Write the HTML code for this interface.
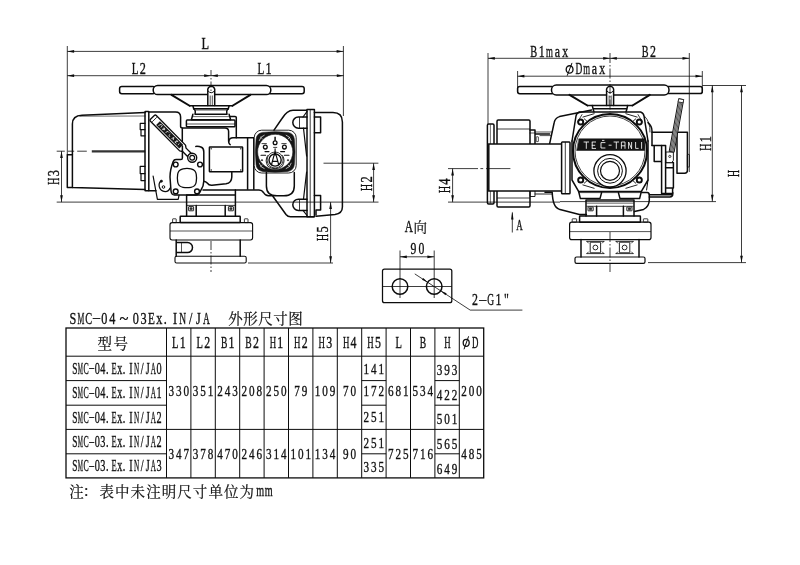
<!DOCTYPE html>
<html lang="zh"><head><meta charset="utf-8"><title>SMC-04~03Ex.IN/JA</title>
<style>
html,body{margin:0;padding:0;background:#fff;}
body{width:800px;height:565px;overflow:hidden;font-family:"Liberation Serif",serif;}
svg{display:block;will-change:transform;opacity:0.999;}
svg text{font-family:"Liberation Serif",serif;fill:#111;stroke:#111;stroke-width:0.36px;}
</style></head><body>
<svg width="800" height="565" viewBox="0 0 800 565">
<rect width="800" height="565" fill="#fff"/>
<rect x="119.60" y="86.40" width="35.40" height="7.40" rx="2.20" fill="none" stroke="#0c0c0c" stroke-width="1.50"/>
<rect x="268.00" y="86.40" width="36.20" height="7.40" rx="2.20" fill="none" stroke="#0c0c0c" stroke-width="1.50"/>
<rect x="153.2" y="85.4" width="117.6" height="9.2" rx="4.4" fill="#fff" stroke="#0c0c0c" stroke-width="1.50"/>
<path d="M207.8 105.6V90.7A3.55 3.55 0 1 1 214.7 90.7V105.6" fill="#fff" stroke="#0c0c0c" stroke-width="1.50" stroke-linejoin="round" stroke-linecap="round" />
<path d="M208.1 91Q211.2 94.8 214.4 91" fill="none" stroke="#0c0c0c" stroke-width="1.00" stroke-linejoin="round" stroke-linecap="round" />
<line x1="210.20" y1="95.50" x2="210.20" y2="105.60" stroke="#0c0c0c" stroke-width="0.70"/>
<line x1="212.30" y1="95.50" x2="212.30" y2="105.60" stroke="#0c0c0c" stroke-width="0.70"/>
<path d="M171.5 94.8L189.6 105.75M250.4 94.8L232.5 105.75" fill="none" stroke="#0c0c0c" stroke-width="2.00" stroke-linejoin="round" stroke-linecap="round" />
<path d="M189.6 105.75H232.5" fill="none" stroke="#0c0c0c" stroke-width="1.50" stroke-linejoin="round" stroke-linecap="round" />
<path d="M192.9 105.75L193.7 108.8H228.3L229.1 105.75" fill="none" stroke="#0c0c0c" stroke-width="1.50" stroke-linejoin="round" stroke-linecap="round" />
<path d="M193.7 108.8Q196 110 195 114.2H227Q226 110 228.3 108.8" fill="none" stroke="#0c0c0c" stroke-width="1.50" stroke-linejoin="round" stroke-linecap="round" />
<line x1="195.40" y1="110.00" x2="226.60" y2="110.00" stroke="#0c0c0c" stroke-width="0.70"/>
<path d="M192.9 114.2L191.4 119.7H230.6L229.1 114.2" fill="none" stroke="#0c0c0c" stroke-width="1.50" stroke-linejoin="round" stroke-linecap="round" />
<line x1="192.40" y1="116.60" x2="229.60" y2="116.60" stroke="#0c0c0c" stroke-width="0.60"/>
<rect x="186.40" y="120.10" width="48.60" height="6.60" rx="0.80" fill="none" stroke="#0c0c0c" stroke-width="1.50"/>
<line x1="186.40" y1="124.00" x2="235.00" y2="124.00" stroke="#0c0c0c" stroke-width="0.70"/>
<path d="M145.2 112.6L82 115.3Q72.4 115.6 72.4 124V187.4L145.0 189.4" fill="none" stroke="#0c0c0c" stroke-width="1.50" stroke-linejoin="round" stroke-linecap="round" />
<path d="M80 116.2L145.2 116.0" fill="none" stroke="#0c0c0c" stroke-width="0.60" stroke-linejoin="round" stroke-linecap="round" />
<path d="M72.4 154.8H67.3V187.5H72.4" fill="none" stroke="#0c0c0c" stroke-width="1.50" stroke-linejoin="round" stroke-linecap="round" />
<line x1="91.80" y1="151.30" x2="145.20" y2="151.30" stroke="#333" stroke-width="2.30"/>
<rect x="145.00" y="111.60" width="3.80" height="79.20" rx="0.50" fill="none" stroke="#0c0c0c" stroke-width="1.50"/>
<path d="M145 123.4H140.2V129.6H141V135.8H145M140.2 129.6H145" fill="none" stroke="#0c0c0c" stroke-width="1.20" stroke-linejoin="round" stroke-linecap="round" />
<path d="M145 166.4H140.2V173.6H141V180.6H145M140.2 173.6H145" fill="none" stroke="#0c0c0c" stroke-width="1.20" stroke-linejoin="round" stroke-linecap="round" />
<path d="M148.8 112H175.5Q180.6 112 180.6 117V126.5Q180.6 128 183 128H225Q228.6 128 228.6 131.5V140.5Q228.6 143.8 230.2 144.6" fill="none" stroke="#0c0c0c" stroke-width="1.50" stroke-linejoin="round" stroke-linecap="round" />
<path d="M228.8 141Q229.4 137.8 233 137.8H254.2" fill="none" stroke="#0c0c0c" stroke-width="1.50" stroke-linejoin="round" stroke-linecap="round" />
<path d="M230.4 116.4H235Q236.3 116.4 236.3 117.6V137.8" fill="none" stroke="#0c0c0c" stroke-width="1.50" stroke-linejoin="round" stroke-linecap="round" />
<path d="M182.3 128.5V146" fill="none" stroke="#0c0c0c" stroke-width="1.50" stroke-linejoin="round" stroke-linecap="round" />
<path d="M148.8 190.8H156" fill="none" stroke="#0c0c0c" stroke-width="1.50" stroke-linejoin="round" stroke-linecap="round" />
<g transform="translate(152.4 117.4) rotate(45.4)">
<path d="M1.4 -4.1H43L45.5 -2.4H52.5V2.4H45.5L43 4.1H1.4Q0 4.1 0 2.7V-2.7Q0 -4.1 1.4 -4.1Z" fill="#fff" stroke="#0c0c0c" stroke-width="1.35" stroke-linejoin="round"/>
<path d="M3 -3.2V3.2" stroke="#0c0c0c" stroke-width="0.8"/>
<rect x="8" y="-2.7" width="33" height="5.4" fill="#181818"/>
<path d="M10 1.4l1.2 -2.8l1.6 0.2l0.4 2.2M15.5 -1.4v2.6l2 -1.2l-1.4 -1.2M20 1.2l0.8 -2.4h1.6M24.5 -1v2l1.6 0.2M28.5 1.2l1 -2.4l1.2 2.4M33 -1.2h2l-1.8 2.4h2.2M37.5 -1v2.2" stroke="#fff" stroke-width="0.75" fill="none"/>
</g>
<circle cx="192.20" cy="157.70" r="4.50" fill="#fff" stroke="#0c0c0c" stroke-width="1.40"/>
<circle cx="192.20" cy="157.70" r="2.40" fill="none" stroke="#0c0c0c" stroke-width="1.20"/>
<path d="M173.2 161.6Q174 159.6 176 159.6H180.8Q182.4 159.6 182.4 158V146M195.8 146.4Q199 146.2 201.5 147.2Q203.8 148.2 203.8 152V181Q203.7 186 201 190Q199 195 195.5 195H174.5Q171.5 195 171 191L170 177Q170 170 173.2 161.6" fill="none" stroke="#0c0c0c" stroke-width="1.50" stroke-linejoin="round" stroke-linecap="round" />
<path d="M183 168.8Q187 168 191 168.8Q195.6 169.8 196.2 174Q196.9 178 196.2 182Q195.6 186.4 191 187.3Q187 188.1 183 187.3Q178.3 186.4 177.7 182Q177 178 177.7 174Q178.3 169.8 183 168.8Z" fill="none" stroke="#0c0c0c" stroke-width="1.30" stroke-linejoin="round" stroke-linecap="round" />
<circle cx="175.70" cy="164.50" r="2.40" fill="#fff" stroke="#0c0c0c" stroke-width="1.40"/>
<circle cx="200.00" cy="164.50" r="2.40" fill="#fff" stroke="#0c0c0c" stroke-width="1.40"/>
<circle cx="175.70" cy="191.40" r="2.40" fill="#fff" stroke="#0c0c0c" stroke-width="1.40"/>
<circle cx="197.00" cy="191.40" r="2.40" fill="#fff" stroke="#0c0c0c" stroke-width="1.40"/>
<path d="M153.1 176L157.4 199.3H178.2L179 195.4" fill="none" stroke="#0c0c0c" stroke-width="1.20" stroke-linejoin="round" stroke-linecap="round" />
<circle cx="163.50" cy="187.00" r="1.30" fill="none" stroke="#0c0c0c" stroke-width="1.00"/>
<path d="M160.8 181.2Q158.5 183 159.2 186.5Q160.4 191.4 165.2 191.6Q169 191.4 170 188" fill="none" stroke="#0c0c0c" stroke-width="1.15" stroke-linejoin="round" stroke-linecap="round" />
<circle cx="161.40" cy="181.20" r="1.15" fill="#111" stroke="#0c0c0c" stroke-width="0.60"/>
<rect x="209.40" y="147.00" width="33.20" height="24.80" rx="0.60" fill="none" stroke="#0c0c0c" stroke-width="1.50"/>
<circle cx="211.20" cy="148.80" r="0.45" fill="#111" stroke="#0c0c0c" stroke-width="0.50"/>
<circle cx="240.80" cy="148.80" r="0.45" fill="#111" stroke="#0c0c0c" stroke-width="0.50"/>
<circle cx="211.20" cy="170.00" r="0.45" fill="#111" stroke="#0c0c0c" stroke-width="0.50"/>
<circle cx="240.80" cy="170.00" r="0.45" fill="#111" stroke="#0c0c0c" stroke-width="0.50"/>
<path d="M203.7 181.3Q206 181.6 207.2 183Q209 185.6 212 185.3L226 183.8Q231.6 183 231.8 177V171.8" fill="none" stroke="#0c0c0c" stroke-width="1.50" stroke-linejoin="round" stroke-linecap="round" />
<line x1="247.60" y1="137.80" x2="247.60" y2="189.80" stroke="#0c0c0c" stroke-width="1.50"/>
<line x1="253.80" y1="137.80" x2="253.80" y2="189.80" stroke="#0c0c0c" stroke-width="1.50"/>
<path d="M203 190H259Q262 190 263.5 192.5Q265.3 195.8 268.5 195.8H272.5L286 214.5Q287.8 216.8 290.5 216.8H313.8" fill="none" stroke="#0c0c0c" stroke-width="1.50" stroke-linejoin="round" stroke-linecap="round" />
<rect x="254.20" y="130.20" width="42.00" height="42.80" rx="7.50" fill="#fff" stroke="#0c0c0c" stroke-width="0.90"/>
<path d="M262.6 132.4Q275.2 130.9 287.8 132.4Q293.6 133.3 294.3 139Q295.8 151.9 294.3 164.8Q293.6 170.5 287.8 171.4Q275.2 172.9 262.6 171.4Q256.8 170.5 256.1 164.8Q254.6 151.9 256.1 139Q256.8 133.3 262.6 132.4Z M257.6 151.9a17.6 17.6 0 1 0 35.2 0a17.6 17.6 0 1 0 -35.2 0Z" fill="#161616" fill-rule="evenodd" stroke="#161616" stroke-width="0.6" stroke-linejoin="round"/>
<path d="M259.2 140.6Q260.2 136.4 264.2 135.2M260.6 137.2L262.2 138.6M291.2 140.6Q290.2 136.4 286.2 135.2M289.8 137.2L288.2 138.6M259.2 163.2Q260.2 167.4 264.2 168.6M260.6 166.6L262.2 165.2M291.2 163.2Q290.2 167.4 286.2 168.6M289.8 166.6L288.2 165.2" fill="none" stroke="#e8e8e8" stroke-width="0.75" stroke-linejoin="round" stroke-linecap="round" />
<circle cx="265.30" cy="147.10" r="1.90" fill="none" stroke="#0c0c0c" stroke-width="1.30"/>
<circle cx="275.10" cy="142.80" r="1.90" fill="none" stroke="#0c0c0c" stroke-width="1.30"/>
<circle cx="284.40" cy="147.10" r="1.90" fill="none" stroke="#0c0c0c" stroke-width="1.30"/>
<line x1="275.10" y1="136.80" x2="275.10" y2="140.80" stroke="#0c0c0c" stroke-width="1.50"/>
<path d="M262 143.6h4.4M281.8 143.6h4.4M273.6 147.4h3.2" fill="none" stroke="#0c0c0c" stroke-width="0.80" stroke-linejoin="round" stroke-linecap="round" />
<path d="M265 151.6h4M280.6 151.6h4M261 155.3h4.6M284.4 155.3h4.6" fill="none" stroke="#0c0c0c" stroke-width="1.10" stroke-linejoin="round" stroke-linecap="round" />
<circle cx="262.00" cy="160.20" r="0.70" fill="#111" stroke="#0c0c0c" stroke-width="0.50"/>
<circle cx="288.00" cy="160.20" r="0.70" fill="#111" stroke="#0c0c0c" stroke-width="0.50"/>
<path d="M267.6 155.6Q264.4 160.8 268 166.4Q275.1 171 282.2 166.4Q285.8 160.8 282.6 155.6" fill="none" stroke="#0c0c0c" stroke-width="0.90" stroke-linejoin="round" stroke-linecap="round" />
<circle cx="275.10" cy="160.00" r="8.00" fill="#fff" stroke="#0c0c0c" stroke-width="0.80"/>
<circle cx="275.10" cy="160.00" r="6.10" fill="none" stroke="#0c0c0c" stroke-width="1.40"/>
<path d="M275.1 148.8V155M275.1 151.4L271.4 165M275.1 151.4L278.8 165M272.4 161.4H277.8" fill="none" stroke="#0c0c0c" stroke-width="1.15" stroke-linejoin="round" stroke-linecap="round" />
<path d="M266.4 172.4V186Q266.4 195.8 277 195.8H283.8Q294.3 195.8 294.3 186V172.4" fill="none" stroke="#0c0c0c" stroke-width="1.50" stroke-linejoin="round" stroke-linecap="round" />
<path d="M274 130.2L282 118.5Q287 110.2 293 110.2H307" fill="none" stroke="#0c0c0c" stroke-width="1.50" stroke-linejoin="round" stroke-linecap="round" />
<path d="M307 109.4H314.4V216.8H307Z" fill="#fff" stroke="#0c0c0c" stroke-width="1.50" stroke-linejoin="round" stroke-linecap="round" />
<line x1="310.20" y1="109.40" x2="310.20" y2="216.80" stroke="#0c0c0c" stroke-width="0.80"/>
<path d="M307 117H298.4A5.6 5.6 0 0 0 298.4 128.2H307" fill="none" stroke="#0c0c0c" stroke-width="1.50" stroke-linejoin="round" stroke-linecap="round" />
<line x1="299.50" y1="117.00" x2="299.50" y2="128.20" stroke="#0c0c0c" stroke-width="0.80"/>
<path d="M307 199.2H298.4A5.6 5.6 0 0 0 298.4 210.4H307" fill="none" stroke="#0c0c0c" stroke-width="1.50" stroke-linejoin="round" stroke-linecap="round" />
<line x1="299.50" y1="199.20" x2="299.50" y2="210.40" stroke="#0c0c0c" stroke-width="0.80"/>
<path d="M307 111.5L303 117M303.5 128.2L306.6 156" fill="none" stroke="#0c0c0c" stroke-width="1.20" stroke-linejoin="round" stroke-linecap="round" />
<path d="M306.6 172L303.5 199.2M303 210.4L307 215.5" fill="none" stroke="#0c0c0c" stroke-width="1.20" stroke-linejoin="round" stroke-linecap="round" />
<path d="M314.4 112.6H333Q342.4 112.6 342.4 122V207Q342.4 213.4 335 214.4L316 216.2" fill="none" stroke="#0c0c0c" stroke-width="1.50" stroke-linejoin="round" stroke-linecap="round" />
<path d="M314.4 117H320.6V132.8H314.4" fill="none" stroke="#0c0c0c" stroke-width="1.50" stroke-linejoin="round" stroke-linecap="round" />
<path d="M314.4 195.5H320.6V210H316V215" fill="none" stroke="#0c0c0c" stroke-width="1.50" stroke-linejoin="round" stroke-linecap="round" />
<path d="M186.6 195V216.2M235.4 190V216.2M186.6 195H235.4" fill="none" stroke="#0c0c0c" stroke-width="1.50" stroke-linejoin="round" stroke-linecap="round" />
<line x1="186.60" y1="205.40" x2="235.20" y2="205.40" stroke="#0c0c0c" stroke-width="0.80"/>
<rect x="188.60" y="206.60" width="5.00" height="4.20" rx="0.30" fill="none" stroke="#0c0c0c" stroke-width="0.90"/>
<rect x="228.40" y="206.60" width="5.00" height="4.20" rx="0.30" fill="none" stroke="#0c0c0c" stroke-width="0.90"/>
<rect x="190.00" y="207.80" width="2.20" height="1.80" rx="0.20" fill="#444" stroke="#0c0c0c" stroke-width="0.60"/>
<rect x="229.80" y="207.80" width="2.20" height="1.80" rx="0.20" fill="#444" stroke="#0c0c0c" stroke-width="0.60"/>
<path d="M196.2 205.4V216.2M225.2 205.4V216.2" fill="none" stroke="#0c0c0c" stroke-width="1.50" stroke-linejoin="round" stroke-linecap="round" />
<rect x="180.20" y="216.20" width="60.00" height="6.40" rx="0.50" fill="none" stroke="#0c0c0c" stroke-width="1.50"/>
<rect x="172.60" y="218.80" width="3.60" height="3.80" rx="0.40" fill="none" stroke="#0c0c0c" stroke-width="0.80"/>
<rect x="244.40" y="218.80" width="3.60" height="3.80" rx="0.40" fill="none" stroke="#0c0c0c" stroke-width="0.80"/>
<rect x="170.00" y="222.60" width="82.60" height="17.40" rx="2.20" fill="none" stroke="#0c0c0c" stroke-width="1.10"/>
<line x1="170.00" y1="231.00" x2="252.60" y2="231.00" stroke="#0c0c0c" stroke-width="0.70"/>
<path d="M176.2 240V256.2M240.2 240V256.2" fill="none" stroke="#0c0c0c" stroke-width="1.50" stroke-linejoin="round" stroke-linecap="round" />
<path d="M177 242.6H187.5A5 5 0 0 1 187.5 252.6H177" fill="none" stroke="#0c0c0c" stroke-width="1.50" stroke-linejoin="round" stroke-linecap="round" />
<line x1="181.50" y1="242.60" x2="181.50" y2="252.60" stroke="#0c0c0c" stroke-width="0.70"/>
<rect x="175.00" y="256.20" width="71.20" height="6.80" rx="1.60" fill="none" stroke="#0c0c0c" stroke-width="1.10"/>
<rect x="517.60" y="86.40" width="36.40" height="7.40" rx="2.20" fill="none" stroke="#0c0c0c" stroke-width="1.50"/>
<rect x="666.00" y="86.40" width="36.30" height="7.20" rx="2.20" fill="none" stroke="#0c0c0c" stroke-width="1.50"/>
<rect x="551.5" y="85" width="117.5" height="10" rx="4.8" fill="#fff" stroke="#0c0c0c" stroke-width="1.50"/>
<path d="M606.6 105.4V90.7A3.6 3.6 0 1 1 613.6 90.7V105.4" fill="#fff" stroke="#0c0c0c" stroke-width="1.50" stroke-linejoin="round" stroke-linecap="round" />
<path d="M606.9 91Q610.1 94.8 613.3 91" fill="none" stroke="#0c0c0c" stroke-width="1.00" stroke-linejoin="round" stroke-linecap="round" />
<line x1="609.10" y1="95.50" x2="609.10" y2="105.40" stroke="#0c0c0c" stroke-width="0.70"/>
<line x1="611.20" y1="95.50" x2="611.20" y2="105.40" stroke="#0c0c0c" stroke-width="0.70"/>
<path d="M569.5 94.8L587.4 105.5M649.8 94.8L632.5 105.5" fill="none" stroke="#0c0c0c" stroke-width="2.00" stroke-linejoin="round" stroke-linecap="round" />
<line x1="587.40" y1="105.50" x2="632.50" y2="105.50" stroke="#0c0c0c" stroke-width="1.50"/>
<path d="M592.3 105.5L593 108.7H627L627.6 105.5M593 108.7L594 111.9M627 108.7L626 111.9" fill="none" stroke="#0c0c0c" stroke-width="1.50" stroke-linejoin="round" stroke-linecap="round" />
<path d="M579.4 112H640.6M579.4 112Q576.5 113 576 116L572 141M640.6 112Q643.5 113 644 116L648 141" fill="none" stroke="#0c0c0c" stroke-width="1.50" stroke-linejoin="round" stroke-linecap="round" />
<path d="M572 141V180L578.6 191.4H641.4L648 180V141" fill="none" stroke="#0c0c0c" stroke-width="1.50" stroke-linejoin="round" stroke-linecap="round" />
<path d="M582 114.6L577.6 122M638 114.6L642.4 122" fill="none" stroke="#0c0c0c" stroke-width="0.80" stroke-linejoin="round" stroke-linecap="round" />
<circle cx="610.00" cy="151.00" r="37.00" fill="#fff" stroke="#0c0c0c" stroke-width="2.00"/>
<circle cx="610.00" cy="151.00" r="35.00" fill="none" stroke="#0c0c0c" stroke-width="0.80"/>
<g transform="translate(610 151) scale(1 1)"><path d="M-27.5 -33.8L-15.5 -37.4M-25.6 -25.6L-22.6 -29.4L-26 -32.4" fill="none" stroke="#0c0c0c" stroke-width="0.9"/></g>
<g transform="translate(610 151) scale(-1 1)"><path d="M-27.5 -33.8L-15.5 -37.4M-25.6 -25.6L-22.6 -29.4L-26 -32.4" fill="none" stroke="#0c0c0c" stroke-width="0.9"/></g>
<g transform="translate(610 151) scale(1 -1)"><path d="M-27.5 -33.8L-15.5 -37.4M-25.6 -25.6L-22.6 -29.4L-26 -32.4" fill="none" stroke="#0c0c0c" stroke-width="0.9"/></g>
<g transform="translate(610 151) scale(-1 -1)"><path d="M-27.5 -33.8L-15.5 -37.4M-25.6 -25.6L-22.6 -29.4L-26 -32.4" fill="none" stroke="#0c0c0c" stroke-width="0.9"/></g>
<circle cx="580.70" cy="122.00" r="2.55" fill="#fff" stroke="#0c0c0c" stroke-width="1.90"/>
<circle cx="639.30" cy="122.00" r="2.55" fill="#fff" stroke="#0c0c0c" stroke-width="1.90"/>
<circle cx="580.70" cy="180.00" r="2.55" fill="#fff" stroke="#0c0c0c" stroke-width="1.90"/>
<circle cx="639.30" cy="180.00" r="2.55" fill="#fff" stroke="#0c0c0c" stroke-width="1.90"/>
<path d="M579 138.8H644.6V150.5H576.8Z" fill="#141414" stroke="#0c0c0c" stroke-width="0.50" stroke-linejoin="round" stroke-linecap="round" />
<g stroke="#fff" stroke-width="0.85" fill="none" stroke-linecap="butt">
<path d="M583.6 142h5.4M586.3 142v6.8M591.8 142h4.2M591.8 145.3h3.4M591.8 148.4h4.2M592.2 142v6.4M605.4 142.6h-4.4v5.4h4.4M602 140.4h2.4M608.6 145.2h3M613.6 142h5.4M616.3 142v6.8M621.4 148.8v-6.8h3.6v6.8M621.4 145.8h3.6M628.6 148.8v-6.8M628.6 142l3 6.8M631.6 148.8v-6.8M635.6 142v6.4h3M641.6 142v6.8"/>
</g>
<circle cx="610.00" cy="170.80" r="16.10" fill="#fff" stroke="#0c0c0c" stroke-width="1.30"/>
<circle cx="610.00" cy="170.80" r="12.40" fill="none" stroke="#0c0c0c" stroke-width="1.00"/>
<circle cx="610.00" cy="170.80" r="9.50" fill="none" stroke="#0c0c0c" stroke-width="1.20"/>
<path d="M549.6 143.8L554.2 122.5Q555 118 559.5 116.6L591.6 110" fill="none" stroke="#0c0c0c" stroke-width="1.50" stroke-linejoin="round" stroke-linecap="round" />
<path d="M497 144V121.2Q497 120 498.2 120H528.8Q530 120 530 121.2V144" fill="none" stroke="#0c0c0c" stroke-width="1.50" stroke-linejoin="round" stroke-linecap="round" />
<line x1="497.00" y1="129.00" x2="530.00" y2="129.00" stroke="#0c0c0c" stroke-width="0.80"/>
<path d="M497 191V205.8Q497 207 498.2 207H528.8Q530 207 530 205.8V191" fill="none" stroke="#0c0c0c" stroke-width="1.50" stroke-linejoin="round" stroke-linecap="round" />
<line x1="497.00" y1="198.00" x2="530.00" y2="198.00" stroke="#0c0c0c" stroke-width="0.80"/>
<path d="M530 130H535V144M535 134H549.6" fill="none" stroke="#0c0c0c" stroke-width="1.50" stroke-linejoin="round" stroke-linecap="round" />
<path d="M530 133H535" fill="none" stroke="#0c0c0c" stroke-width="0.70" stroke-linejoin="round" stroke-linecap="round" />
<rect x="536.20" y="136.80" width="2.20" height="4.80" rx="0.40" fill="none" stroke="#0c0c0c" stroke-width="0.70"/>
<path d="M530 191V196.5H535V191M535 194H552" fill="none" stroke="#0c0c0c" stroke-width="0.90" stroke-linejoin="round" stroke-linecap="round" />
<rect x="487.40" y="124.00" width="6.60" height="80.00" rx="1.20" fill="#fff" stroke="#0c0c0c" stroke-width="1.50"/>
<line x1="490.40" y1="124.50" x2="490.40" y2="203.50" stroke="#0c0c0c" stroke-width="0.60"/>
<rect x="488.80" y="144.00" width="73.20" height="47.00" rx="0.00" fill="#fff" stroke="#0c0c0c" stroke-width="1.50"/>
<rect x="561.60" y="142.00" width="8.40" height="51.80" rx="0.80" fill="#fff" stroke="#0c0c0c" stroke-width="1.50"/>
<line x1="565.30" y1="142.00" x2="565.30" y2="193.80" stroke="#0c0c0c" stroke-width="0.80"/>
<path d="M535 132H552M540 135.6H551" fill="none" stroke="#0c0c0c" stroke-width="0.70" stroke-linejoin="round" stroke-linecap="round" />
<path d="M648 122.6Q652 126 652 131V145.6" fill="none" stroke="#0c0c0c" stroke-width="1.50" stroke-linejoin="round" stroke-linecap="round" />
<path d="M644.4 116Q650.5 122 650 132" fill="none" stroke="#0c0c0c" stroke-width="0.80" stroke-linejoin="round" stroke-linecap="round" />
<path d="M652 132.2H687.4V170.5Q687.4 173.2 684.6 173.2H677V132.2" fill="none" stroke="#0c0c0c" stroke-width="1.50" stroke-linejoin="round" stroke-linecap="round" />
<rect x="687.40" y="154.40" width="2.00" height="12.60" rx="0.60" fill="none" stroke="#0c0c0c" stroke-width="0.80"/>
<path d="M652 145.6H661.6M654.2 145.6V161.6H661.6" fill="none" stroke="#0c0c0c" stroke-width="1.50" stroke-linejoin="round" stroke-linecap="round" />
<path d="M661.6 145.6H665.6V193.6H661.6Z" fill="#fff" stroke="#0c0c0c" stroke-width="1.50" stroke-linejoin="round" stroke-linecap="round" />
<path d="M665.6 162.6H673.4V167.8H665.6M673.4 167.8V188H665.6M672.6 188V193.6H665.6" fill="none" stroke="#0c0c0c" stroke-width="1.50" stroke-linejoin="round" stroke-linecap="round" />
<path d="M649.3 194.8H670.6Q672.8 194.6 672.8 192.8M649.3 197.1H669.8Q672.7 197 672.8 194" fill="none" stroke="#0c0c0c" stroke-width="1.50" stroke-linejoin="round" stroke-linecap="round" />
<path d="M648 180L646.6 190" fill="none" stroke="#0c0c0c" stroke-width="1.00" stroke-linejoin="round" stroke-linecap="round" />
<path d="M666.4 152H673.4V160.4L671.6 162.6H666.4Z" fill="#fff" stroke="#0c0c0c" stroke-width="0.90" stroke-linejoin="round" stroke-linecap="round" />
<circle cx="669.80" cy="156.40" r="1.10" fill="none" stroke="#0c0c0c" stroke-width="0.80"/>
<g transform="translate(681.2 99.2) rotate(100.3)">
<rect x="0" y="-2.5" width="53.5" height="5.0" fill="#d8d8d8" stroke="#0c0c0c" stroke-width="0.9"/>
<path d="M3 -1.25H53.5M3 0H53.5M3 1.25H53.5" stroke="#1a1a1a" stroke-width="0.62"/>
<rect x="0" y="-2.5" width="3.2" height="5.0" fill="#fff" stroke="#222" stroke-width="0.8"/>
</g>
<path d="M578.6 191.4L580.4 198.6H600L601.6 192.6M641.4 191.4L639.6 198.6H620L618.4 192.6" fill="none" stroke="#0c0c0c" stroke-width="1.50" stroke-linejoin="round" stroke-linecap="round" />
<line x1="578.60" y1="192.60" x2="641.40" y2="192.60" stroke="#0c0c0c" stroke-width="0.70"/>
<path d="M545 192.2H552.2Q552.6 200 554 203.4Q555.6 208 560 209.6L579.4 214.6H586.4" fill="none" stroke="#0c0c0c" stroke-width="1.50" stroke-linejoin="round" stroke-linecap="round" />
<path d="M641.8 192.6H647.2Q649.3 192.8 649.3 195V200Q649 207 643.6 209.4L634.4 211.5" fill="none" stroke="#0c0c0c" stroke-width="1.50" stroke-linejoin="round" stroke-linecap="round" />
<path d="M586 200V215.9M634 200V215.9M586 200H634" fill="none" stroke="#0c0c0c" stroke-width="1.50" stroke-linejoin="round" stroke-linecap="round" />
<line x1="586.40" y1="203.20" x2="633.60" y2="203.20" stroke="#0c0c0c" stroke-width="0.60"/>
<line x1="586.40" y1="206.30" x2="633.60" y2="206.30" stroke="#0c0c0c" stroke-width="0.80"/>
<rect x="588.00" y="207.00" width="5.20" height="3.80" rx="0.30" fill="none" stroke="#0c0c0c" stroke-width="0.90"/>
<rect x="626.80" y="207.00" width="5.20" height="3.80" rx="0.30" fill="none" stroke="#0c0c0c" stroke-width="0.90"/>
<rect x="589.50" y="208.10" width="2.20" height="1.60" rx="0.20" fill="#444" stroke="#0c0c0c" stroke-width="0.60"/>
<rect x="628.30" y="208.10" width="2.20" height="1.60" rx="0.20" fill="#444" stroke="#0c0c0c" stroke-width="0.60"/>
<path d="M596.6 206.3V215.9M623.4 206.3V215.9" fill="none" stroke="#0c0c0c" stroke-width="1.50" stroke-linejoin="round" stroke-linecap="round" />
<rect x="579.60" y="215.90" width="60.80" height="6.40" rx="0.50" fill="none" stroke="#0c0c0c" stroke-width="1.50"/>
<rect x="572.20" y="218.80" width="4.40" height="3.40" rx="0.40" fill="none" stroke="#0c0c0c" stroke-width="0.80"/>
<rect x="643.40" y="218.80" width="4.40" height="3.40" rx="0.40" fill="none" stroke="#0c0c0c" stroke-width="0.80"/>
<rect x="569.60" y="222.20" width="81.40" height="17.40" rx="2.20" fill="none" stroke="#0c0c0c" stroke-width="1.20"/>
<line x1="569.60" y1="231.60" x2="651.00" y2="231.60" stroke="#0c0c0c" stroke-width="0.70"/>
<path d="M581 239.6V257M639 239.6V257" fill="none" stroke="#0c0c0c" stroke-width="1.50" stroke-linejoin="round" stroke-linecap="round" />
<rect x="590.20" y="242.20" width="10.40" height="10.60" rx="0.20" fill="none" stroke="#0c0c0c" stroke-width="0.90"/>
<circle cx="595.40" cy="247.50" r="2.40" fill="none" stroke="#0c0c0c" stroke-width="0.90"/>
<path d="M586.9 241.4H603.9M586.9 253.6H603.9M586.9 241.4L588.4 243M603.9 241.4L602.4 243M586.9 253.6L588.4 252M603.9 253.6L602.4 252" fill="none" stroke="#0c0c0c" stroke-width="0.80" stroke-linejoin="round" stroke-linecap="round" />
<rect x="619.40" y="242.20" width="10.40" height="10.60" rx="0.20" fill="none" stroke="#0c0c0c" stroke-width="0.90"/>
<circle cx="624.60" cy="247.50" r="2.40" fill="none" stroke="#0c0c0c" stroke-width="0.90"/>
<path d="M616.1 241.4H633.1M616.1 253.6H633.1M616.1 241.4L617.6 243M633.1 241.4L631.6 243M616.1 253.6L617.6 252M633.1 253.6L631.6 252" fill="none" stroke="#0c0c0c" stroke-width="0.80" stroke-linejoin="round" stroke-linecap="round" />
<rect x="575.00" y="257.00" width="70.00" height="6.40" rx="1.60" fill="none" stroke="#0c0c0c" stroke-width="1.20"/>
<line x1="67.30" y1="46.00" x2="67.30" y2="154.80" stroke="#0c0c0c" stroke-width="0.80"/>
<line x1="343.40" y1="46.00" x2="343.40" y2="116.00" stroke="#0c0c0c" stroke-width="0.80"/>
<line x1="67.30" y1="51.40" x2="343.40" y2="51.40" stroke="#0c0c0c" stroke-width="0.80"/>
<path d="M67.30 51.40L74.10 50.05L74.10 52.75Z" fill="#0c0c0c"/>
<path d="M343.40 51.40L336.60 52.75L336.60 50.05Z" fill="#0c0c0c"/>
<g font-size="17.00" text-anchor="middle">
<text transform="translate(205.20 49.40) scale(0.732 1)">L</text>
</g>
<line x1="67.30" y1="75.70" x2="343.60" y2="75.70" stroke="#0c0c0c" stroke-width="0.80"/>
<path d="M67.30 75.70L74.10 74.35L74.10 77.05Z" fill="#0c0c0c"/>
<path d="M343.60 75.70L336.80 77.05L336.80 74.35Z" fill="#0c0c0c"/>
<path d="M211.00 75.70L204.20 77.05L204.20 74.35Z" fill="#0c0c0c"/>
<path d="M211.00 75.70L217.80 74.35L217.80 77.05Z" fill="#0c0c0c"/>
<g font-size="17.00" text-anchor="middle">
<text transform="translate(135.10 74.00) scale(0.655 1)">L</text>
<text transform="translate(142.90 74.00) scale(0.720 1)">2</text>
</g>
<g font-size="17.00" text-anchor="middle">
<text transform="translate(260.80 74.00) scale(0.655 1)">L</text>
<text transform="translate(268.60 74.00) scale(0.720 1)">1</text>
</g>
<line x1="211.00" y1="70.00" x2="211.00" y2="92.00" stroke="#0c0c0c" stroke-width="0.80" stroke-dasharray="6 2 1.5 2"/>
<line x1="56.70" y1="151.20" x2="64.80" y2="151.20" stroke="#0c0c0c" stroke-width="0.80"/>
<line x1="67.80" y1="151.20" x2="74.20" y2="151.20" stroke="#0c0c0c" stroke-width="0.80"/>
<line x1="77.20" y1="151.20" x2="86.80" y2="151.20" stroke="#0c0c0c" stroke-width="0.80"/>
<line x1="56.70" y1="202.10" x2="378.50" y2="202.10" stroke="#0c0c0c" stroke-width="0.80"/>
<line x1="61.50" y1="151.20" x2="61.50" y2="202.10" stroke="#0c0c0c" stroke-width="0.80"/>
<path d="M61.50 151.20L62.85 158.00L60.15 158.00Z" fill="#0c0c0c"/>
<path d="M61.50 202.10L60.15 195.30L62.85 195.30Z" fill="#0c0c0c"/>
<g transform="rotate(-90 59.40 177.20)" font-size="17.20" text-anchor="middle">
<text transform="translate(55.40 177.20) scale(0.564 1)">H</text>
<text transform="translate(63.40 177.20) scale(0.720 1)">3</text>
</g>
<line x1="323.50" y1="163.20" x2="378.40" y2="163.20" stroke="#0c0c0c" stroke-width="0.80"/>
<line x1="373.60" y1="163.20" x2="373.60" y2="202.10" stroke="#0c0c0c" stroke-width="0.80"/>
<path d="M373.60 163.20L374.95 170.00L372.25 170.00Z" fill="#0c0c0c"/>
<path d="M373.60 202.10L372.25 195.30L374.95 195.30Z" fill="#0c0c0c"/>
<g transform="rotate(-90 371.80 183.40)" font-size="17.20" text-anchor="middle">
<text transform="translate(367.80 183.40) scale(0.564 1)">H</text>
<text transform="translate(375.80 183.40) scale(0.720 1)">2</text>
</g>
<line x1="248.00" y1="263.00" x2="333.00" y2="263.00" stroke="#0c0c0c" stroke-width="0.80"/>
<line x1="330.60" y1="202.10" x2="330.60" y2="263.00" stroke="#0c0c0c" stroke-width="0.80"/>
<path d="M330.60 202.10L331.95 208.90L329.25 208.90Z" fill="#0c0c0c"/>
<path d="M330.60 263.00L329.25 256.20L331.95 256.20Z" fill="#0c0c0c"/>
<g transform="rotate(-90 328.20 233.40)" font-size="17.20" text-anchor="middle">
<text transform="translate(324.20 233.40) scale(0.564 1)">H</text>
<text transform="translate(332.20 233.40) scale(0.720 1)">5</text>
</g>
<line x1="211.00" y1="241.00" x2="211.00" y2="272.00" stroke="#0c0c0c" stroke-width="0.80" stroke-dasharray="9 2 1.5 2"/>
<line x1="488.00" y1="53.00" x2="488.00" y2="124.00" stroke="#0c0c0c" stroke-width="0.80"/>
<line x1="610.00" y1="53.00" x2="610.00" y2="112.00" stroke="#0c0c0c" stroke-width="0.80" stroke-dasharray="10 2 1.5 2"/>
<line x1="689.30" y1="53.00" x2="689.30" y2="172.00" stroke="#0c0c0c" stroke-width="0.80"/>
<line x1="488.00" y1="58.30" x2="689.30" y2="58.30" stroke="#0c0c0c" stroke-width="0.80"/>
<path d="M488.00 58.30L494.80 56.95L494.80 59.65Z" fill="#0c0c0c"/>
<path d="M689.30 58.30L682.50 59.65L682.50 56.95Z" fill="#0c0c0c"/>
<path d="M610.00 58.30L603.20 59.65L603.20 56.95Z" fill="#0c0c0c"/>
<path d="M610.00 58.30L616.80 56.95L616.80 59.65Z" fill="#0c0c0c"/>
<g font-size="16.50" text-anchor="middle">
<text transform="translate(533.70 57.00) scale(0.627 1)">B</text>
<text transform="translate(541.60 57.00) scale(0.720 1)">1</text>
<text transform="translate(549.50 57.00) scale(0.538 1)">m</text>
<text transform="translate(557.40 57.00) scale(0.720 1)">a</text>
<text transform="translate(565.30 57.00) scale(0.720 1)">x</text>
</g>
<g font-size="16.50" text-anchor="middle">
<text transform="translate(645.10 57.00) scale(0.618 1)">B</text>
<text transform="translate(652.90 57.00) scale(0.720 1)">2</text>
</g>
<line x1="517.60" y1="71.00" x2="517.60" y2="93.00" stroke="#0c0c0c" stroke-width="0.80"/>
<line x1="702.30" y1="71.00" x2="702.30" y2="93.00" stroke="#0c0c0c" stroke-width="0.80"/>
<line x1="517.60" y1="76.20" x2="702.30" y2="76.20" stroke="#0c0c0c" stroke-width="0.80"/>
<path d="M517.60 76.20L524.40 74.85L524.40 77.55Z" fill="#0c0c0c"/>
<path d="M702.30 76.20L695.50 77.55L695.50 74.85Z" fill="#0c0c0c"/>
<g font-size="16.50" text-anchor="middle">
<text transform="translate(578.80 74.30) scale(0.571 1)">D</text>
<text transform="translate(586.60 74.30) scale(0.530 1)">m</text>
<text transform="translate(594.40 74.30) scale(0.720 1)">a</text>
<text transform="translate(602.20 74.30) scale(0.720 1)">x</text>
</g>
<ellipse cx="569.6" cy="69.4" rx="3.4" ry="3.7" fill="none" stroke="#111" stroke-width="1.35"/>
<line x1="572.00" y1="62.90" x2="567.20" y2="75.70" stroke="#0c0c0c" stroke-width="1.00"/>
<line x1="702.30" y1="85.50" x2="746.00" y2="85.50" stroke="#0c0c0c" stroke-width="0.80"/>
<line x1="560.00" y1="201.60" x2="716.00" y2="201.60" stroke="#0c0c0c" stroke-width="0.80"/>
<line x1="648.00" y1="262.60" x2="746.00" y2="262.60" stroke="#0c0c0c" stroke-width="0.80"/>
<line x1="712.30" y1="85.50" x2="712.30" y2="201.60" stroke="#0c0c0c" stroke-width="0.80"/>
<path d="M712.30 85.50L713.65 92.30L710.95 92.30Z" fill="#0c0c0c"/>
<path d="M712.30 201.60L710.95 194.80L713.65 194.80Z" fill="#0c0c0c"/>
<line x1="741.50" y1="85.50" x2="741.50" y2="262.60" stroke="#0c0c0c" stroke-width="0.80"/>
<path d="M741.50 85.50L742.85 92.30L740.15 92.30Z" fill="#0c0c0c"/>
<path d="M741.50 262.60L740.15 255.80L742.85 255.80Z" fill="#0c0c0c"/>
<g transform="rotate(-90 710.60 143.20)" font-size="17.20" text-anchor="middle">
<text transform="translate(706.60 143.20) scale(0.564 1)">H</text>
<text transform="translate(714.60 143.20) scale(0.720 1)">1</text>
</g>
<g transform="rotate(-90 739.30 173.40)" font-size="17.20" text-anchor="middle">
<text transform="translate(739.30 173.40) scale(0.564 1)">H</text>
</g>
<line x1="448.00" y1="168.60" x2="478.00" y2="168.60" stroke="#0c0c0c" stroke-width="0.80"/>
<line x1="480.40" y1="168.60" x2="483.20" y2="168.60" stroke="#0c0c0c" stroke-width="0.80"/>
<line x1="486.00" y1="168.60" x2="510.40" y2="168.60" stroke="#0c0c0c" stroke-width="0.80"/>
<line x1="448.00" y1="202.10" x2="560.00" y2="202.10" stroke="#0c0c0c" stroke-width="0.80"/>
<line x1="452.60" y1="168.60" x2="452.60" y2="202.10" stroke="#0c0c0c" stroke-width="0.80"/>
<path d="M452.60 168.60L453.95 175.40L451.25 175.40Z" fill="#0c0c0c"/>
<path d="M452.60 202.10L451.25 195.30L453.95 195.30Z" fill="#0c0c0c"/>
<g transform="rotate(-90 450.30 185.60)" font-size="17.20" text-anchor="middle">
<text transform="translate(446.30 185.60) scale(0.564 1)">H</text>
<text transform="translate(454.30 185.60) scale(0.720 1)">4</text>
</g>
<line x1="512.30" y1="212.50" x2="512.30" y2="232.50" stroke="#0c0c0c" stroke-width="0.80"/>
<path d="M512.30 211.50L513.50 219.50L511.10 219.50Z" fill="#0c0c0c"/>
<g font-size="15.00" text-anchor="middle">
<text transform="translate(519.55 229.50) scale(0.600 1)">A</text>
</g>
<line x1="610.00" y1="232.00" x2="610.00" y2="272.00" stroke="#0c0c0c" stroke-width="0.80" stroke-dasharray="10 2 1.5 2"/>
<text x="420.2" y="232.2" font-size="13.5" text-anchor="middle" style="font-family:'Liberation Serif','Noto Serif CJK SC',serif;stroke-width:0.2px;">向</text>
<g font-size="17.20" text-anchor="middle">
<text transform="translate(408.90 232.20) scale(0.660 1)">A</text>
</g>
<g font-size="16.30" text-anchor="middle">
<text transform="translate(413.50 254.20) scale(0.720 1)">9</text>
<text transform="translate(421.50 254.20) scale(0.720 1)">0</text>
</g>
<line x1="400.00" y1="250.50" x2="400.00" y2="298.00" stroke="#0c0c0c" stroke-width="0.80"/>
<line x1="434.20" y1="250.50" x2="434.20" y2="298.00" stroke="#0c0c0c" stroke-width="0.80"/>
<line x1="400.00" y1="256.80" x2="434.20" y2="256.80" stroke="#0c0c0c" stroke-width="0.80"/>
<path d="M400.00 256.80L406.80 255.45L406.80 258.15Z" fill="#0c0c0c"/>
<path d="M434.20 256.80L427.40 258.15L427.40 255.45Z" fill="#0c0c0c"/>
<rect x="382.50" y="269.00" width="69.30" height="33.70" rx="2.00" fill="none" stroke="#0c0c0c" stroke-width="1.25"/>
<line x1="382.50" y1="286.50" x2="451.80" y2="286.50" stroke="#0c0c0c" stroke-width="0.80"/>
<circle cx="400.00" cy="286.50" r="7.80" fill="none" stroke="#0c0c0c" stroke-width="1.50"/>
<circle cx="434.20" cy="286.50" r="7.80" fill="none" stroke="#0c0c0c" stroke-width="1.50"/>
<path d="M415.1 274.1L470.2 310.1L522 310.1" fill="none" stroke="#0c0c0c" stroke-width="0.80" stroke-linejoin="round" stroke-linecap="round" />
<path d="M428.00 282.50L421.96 279.86L423.16 278.02Z" fill="#0c0c0c"/>
<path d="M440.60 290.70L446.64 293.34L445.44 295.18Z" fill="#0c0c0c"/>
<g font-size="16.50" text-anchor="middle">
<text transform="translate(474.93 304.80) scale(0.720 1)">2</text>
<text transform="translate(482.77 303.56) scale(0.855 1)">–</text>
<text transform="translate(490.62 304.80) scale(0.575 1)">G</text>
<text transform="translate(498.48 304.80) scale(0.720 1)">1</text>
<text transform="translate(506.32 304.80) scale(0.720 1)">&quot;</text>
</g>
<g font-size="17.00" text-anchor="middle">
<text transform="translate(73.02 323.60) scale(0.720 1)">S</text>
<text transform="translate(80.86 323.60) scale(0.453 1)">M</text>
<text transform="translate(88.70 323.60) scale(0.603 1)">C</text>
<text transform="translate(96.54 322.33) scale(0.828 1)">–</text>
<text transform="translate(104.38 323.60) scale(0.720 1)">0</text>
<text transform="translate(112.22 323.60) scale(0.720 1)">4</text>
</g>
<g font-size="16.50" text-anchor="middle">
<text transform="translate(123.98 324.40) scale(1.000 1)">~</text>
</g>
<g font-size="17.00" text-anchor="middle">
<text transform="translate(135.74 323.60) scale(0.720 1)">0</text>
<text transform="translate(143.58 323.60) scale(0.720 1)">3</text>
<text transform="translate(151.42 323.60) scale(0.659 1)">E</text>
<text transform="translate(159.26 323.60) scale(0.720 1)">x</text>
<text transform="translate(165.38 323.60) scale(0.720 1)">.</text>
<text transform="translate(174.94 323.60) scale(0.720 1)">I</text>
<text transform="translate(182.78 323.60) scale(0.557 1)">N</text>
<text transform="translate(190.62 323.60) scale(0.720 1)">/</text>
<text transform="translate(198.46 323.60) scale(0.720 1)">J</text>
<text transform="translate(206.30 323.60) scale(0.557 1)">A</text>
</g>
<text x="228.2" y="324" font-size="14.5" textLength="74.5" lengthAdjust="spacing" style="font-family:'Liberation Serif','Noto Serif CJK SC',serif;stroke-width:0.2px;">外形尺寸图</text>
<rect x="66.00" y="328.00" width="417.70" height="149.90" rx="0.00" fill="none" stroke="#0c0c0c" stroke-width="1.30"/>
<line x1="66.00" y1="356.20" x2="483.70" y2="356.20" stroke="#0c0c0c" stroke-width="1.00"/>
<line x1="66.00" y1="429.40" x2="483.70" y2="429.40" stroke="#0c0c0c" stroke-width="1.00"/>
<line x1="166.50" y1="328.00" x2="166.50" y2="477.90" stroke="#0c0c0c" stroke-width="1.00"/>
<line x1="190.90" y1="328.00" x2="190.90" y2="477.90" stroke="#0c0c0c" stroke-width="1.00"/>
<line x1="215.30" y1="328.00" x2="215.30" y2="477.90" stroke="#0c0c0c" stroke-width="1.00"/>
<line x1="239.70" y1="328.00" x2="239.70" y2="477.90" stroke="#0c0c0c" stroke-width="1.00"/>
<line x1="264.10" y1="328.00" x2="264.10" y2="477.90" stroke="#0c0c0c" stroke-width="1.00"/>
<line x1="288.50" y1="328.00" x2="288.50" y2="477.90" stroke="#0c0c0c" stroke-width="1.00"/>
<line x1="312.90" y1="328.00" x2="312.90" y2="477.90" stroke="#0c0c0c" stroke-width="1.00"/>
<line x1="337.30" y1="328.00" x2="337.30" y2="477.90" stroke="#0c0c0c" stroke-width="1.00"/>
<line x1="361.70" y1="328.00" x2="361.70" y2="477.90" stroke="#0c0c0c" stroke-width="1.00"/>
<line x1="386.10" y1="328.00" x2="386.10" y2="477.90" stroke="#0c0c0c" stroke-width="1.00"/>
<line x1="410.50" y1="328.00" x2="410.50" y2="477.90" stroke="#0c0c0c" stroke-width="1.00"/>
<line x1="434.90" y1="328.00" x2="434.90" y2="477.90" stroke="#0c0c0c" stroke-width="1.00"/>
<line x1="459.30" y1="328.00" x2="459.30" y2="477.90" stroke="#0c0c0c" stroke-width="1.00"/>
<line x1="66.00" y1="380.60" x2="166.50" y2="380.60" stroke="#0c0c0c" stroke-width="1.00"/>
<line x1="66.00" y1="405.20" x2="166.50" y2="405.20" stroke="#0c0c0c" stroke-width="1.00"/>
<line x1="66.00" y1="453.80" x2="166.50" y2="453.80" stroke="#0c0c0c" stroke-width="1.00"/>
<line x1="361.70" y1="380.60" x2="386.10" y2="380.60" stroke="#0c0c0c" stroke-width="1.00"/>
<line x1="361.70" y1="405.20" x2="386.10" y2="405.20" stroke="#0c0c0c" stroke-width="1.00"/>
<line x1="361.70" y1="453.80" x2="386.10" y2="453.80" stroke="#0c0c0c" stroke-width="1.00"/>
<line x1="434.90" y1="380.60" x2="459.30" y2="380.60" stroke="#0c0c0c" stroke-width="1.00"/>
<line x1="434.90" y1="405.20" x2="459.30" y2="405.20" stroke="#0c0c0c" stroke-width="1.00"/>
<line x1="434.90" y1="453.80" x2="459.30" y2="453.80" stroke="#0c0c0c" stroke-width="1.00"/>
<g font-size="16.50" text-anchor="middle">
<text transform="translate(175.30 347.80) scale(0.635 1)">L</text>
<text transform="translate(182.70 347.80) scale(0.720 1)">1</text>
</g>
<g font-size="16.50" text-anchor="middle">
<text transform="translate(199.70 347.80) scale(0.635 1)">L</text>
<text transform="translate(207.10 347.80) scale(0.720 1)">2</text>
</g>
<g font-size="16.50" text-anchor="middle">
<text transform="translate(224.10 347.80) scale(0.582 1)">B</text>
<text transform="translate(231.50 347.80) scale(0.720 1)">1</text>
</g>
<g font-size="16.50" text-anchor="middle">
<text transform="translate(248.50 347.80) scale(0.582 1)">B</text>
<text transform="translate(255.90 347.80) scale(0.720 1)">2</text>
</g>
<g font-size="16.50" text-anchor="middle">
<text transform="translate(272.90 347.80) scale(0.537 1)">H</text>
<text transform="translate(280.30 347.80) scale(0.720 1)">1</text>
</g>
<g font-size="16.50" text-anchor="middle">
<text transform="translate(297.30 347.80) scale(0.537 1)">H</text>
<text transform="translate(304.70 347.80) scale(0.720 1)">2</text>
</g>
<g font-size="16.50" text-anchor="middle">
<text transform="translate(321.70 347.80) scale(0.537 1)">H</text>
<text transform="translate(329.10 347.80) scale(0.720 1)">3</text>
</g>
<g font-size="16.50" text-anchor="middle">
<text transform="translate(346.10 347.80) scale(0.537 1)">H</text>
<text transform="translate(353.50 347.80) scale(0.720 1)">4</text>
</g>
<g font-size="16.50" text-anchor="middle">
<text transform="translate(370.50 347.80) scale(0.537 1)">H</text>
<text transform="translate(377.90 347.80) scale(0.720 1)">5</text>
</g>
<g font-size="16.50" text-anchor="middle">
<text transform="translate(398.60 347.80) scale(0.635 1)">L</text>
</g>
<g font-size="16.50" text-anchor="middle">
<text transform="translate(423.00 347.80) scale(0.582 1)">B</text>
</g>
<g font-size="16.50" text-anchor="middle">
<text transform="translate(447.40 347.80) scale(0.537 1)">H</text>
</g>
<g font-size="16.50" text-anchor="middle">
<text transform="translate(475.30 347.80) scale(0.537 1)">D</text>
</g>
<ellipse cx="466.20" cy="342.8" rx="3.0" ry="3.5" fill="none" stroke="#111" stroke-width="1.3"/>
<line x1="468.60" y1="336.30" x2="464.00" y2="349.30" stroke="#0c0c0c" stroke-width="1.00"/>
<text x="97.4" y="349" font-size="14.5" textLength="30.6" lengthAdjust="spacing" style="font-family:'Liberation Serif','Noto Serif CJK SC',serif;stroke-width:0.2px;">型号</text>
<g font-size="16.50" text-anchor="middle">
<text transform="translate(74.81 373.60) scale(0.567 1)">S</text>
<text transform="translate(80.42 373.60) scale(0.354 1)">M</text>
<text transform="translate(86.03 373.60) scale(0.472 1)">C</text>
<text transform="translate(91.64 372.36) scale(0.583 1)">–</text>
<text transform="translate(97.25 373.60) scale(0.620 1)">0</text>
<text transform="translate(102.86 373.60) scale(0.620 1)">4</text>
<text transform="translate(107.23 373.60) scale(0.620 1)">.</text>
<text transform="translate(114.08 373.60) scale(0.516 1)">E</text>
<text transform="translate(119.69 373.60) scale(0.620 1)">x</text>
<text transform="translate(124.06 373.60) scale(0.620 1)">.</text>
<text transform="translate(130.91 373.60) scale(0.620 1)">I</text>
<text transform="translate(136.51 373.60) scale(0.436 1)">N</text>
<text transform="translate(142.12 373.60) scale(0.620 1)">/</text>
<text transform="translate(147.74 373.60) scale(0.620 1)">J</text>
<text transform="translate(153.34 373.60) scale(0.436 1)">A</text>
<text transform="translate(158.95 373.60) scale(0.620 1)">0</text>
</g>
<g font-size="16.50" text-anchor="middle">
<text transform="translate(74.81 398.00) scale(0.567 1)">S</text>
<text transform="translate(80.42 398.00) scale(0.354 1)">M</text>
<text transform="translate(86.03 398.00) scale(0.472 1)">C</text>
<text transform="translate(91.64 396.76) scale(0.583 1)">–</text>
<text transform="translate(97.25 398.00) scale(0.620 1)">0</text>
<text transform="translate(102.86 398.00) scale(0.620 1)">4</text>
<text transform="translate(107.23 398.00) scale(0.620 1)">.</text>
<text transform="translate(114.08 398.00) scale(0.516 1)">E</text>
<text transform="translate(119.69 398.00) scale(0.620 1)">x</text>
<text transform="translate(124.06 398.00) scale(0.620 1)">.</text>
<text transform="translate(130.91 398.00) scale(0.620 1)">I</text>
<text transform="translate(136.51 398.00) scale(0.436 1)">N</text>
<text transform="translate(142.12 398.00) scale(0.620 1)">/</text>
<text transform="translate(147.74 398.00) scale(0.620 1)">J</text>
<text transform="translate(153.34 398.00) scale(0.436 1)">A</text>
<text transform="translate(158.95 398.00) scale(0.620 1)">1</text>
</g>
<g font-size="16.50" text-anchor="middle">
<text transform="translate(74.81 422.60) scale(0.567 1)">S</text>
<text transform="translate(80.42 422.60) scale(0.354 1)">M</text>
<text transform="translate(86.03 422.60) scale(0.472 1)">C</text>
<text transform="translate(91.64 421.36) scale(0.583 1)">–</text>
<text transform="translate(97.25 422.60) scale(0.620 1)">0</text>
<text transform="translate(102.86 422.60) scale(0.620 1)">4</text>
<text transform="translate(107.23 422.60) scale(0.620 1)">.</text>
<text transform="translate(114.08 422.60) scale(0.516 1)">E</text>
<text transform="translate(119.69 422.60) scale(0.620 1)">x</text>
<text transform="translate(124.06 422.60) scale(0.620 1)">.</text>
<text transform="translate(130.91 422.60) scale(0.620 1)">I</text>
<text transform="translate(136.51 422.60) scale(0.436 1)">N</text>
<text transform="translate(142.12 422.60) scale(0.620 1)">/</text>
<text transform="translate(147.74 422.60) scale(0.620 1)">J</text>
<text transform="translate(153.34 422.60) scale(0.436 1)">A</text>
<text transform="translate(158.95 422.60) scale(0.620 1)">2</text>
</g>
<g font-size="16.50" text-anchor="middle">
<text transform="translate(74.81 446.80) scale(0.567 1)">S</text>
<text transform="translate(80.42 446.80) scale(0.354 1)">M</text>
<text transform="translate(86.03 446.80) scale(0.472 1)">C</text>
<text transform="translate(91.64 445.56) scale(0.583 1)">–</text>
<text transform="translate(97.25 446.80) scale(0.620 1)">0</text>
<text transform="translate(102.86 446.80) scale(0.620 1)">3</text>
<text transform="translate(107.23 446.80) scale(0.620 1)">.</text>
<text transform="translate(114.08 446.80) scale(0.516 1)">E</text>
<text transform="translate(119.69 446.80) scale(0.620 1)">x</text>
<text transform="translate(124.06 446.80) scale(0.620 1)">.</text>
<text transform="translate(130.91 446.80) scale(0.620 1)">I</text>
<text transform="translate(136.51 446.80) scale(0.436 1)">N</text>
<text transform="translate(142.12 446.80) scale(0.620 1)">/</text>
<text transform="translate(147.74 446.80) scale(0.620 1)">J</text>
<text transform="translate(153.34 446.80) scale(0.436 1)">A</text>
<text transform="translate(158.95 446.80) scale(0.620 1)">2</text>
</g>
<g font-size="16.50" text-anchor="middle">
<text transform="translate(74.81 471.20) scale(0.567 1)">S</text>
<text transform="translate(80.42 471.20) scale(0.354 1)">M</text>
<text transform="translate(86.03 471.20) scale(0.472 1)">C</text>
<text transform="translate(91.64 469.96) scale(0.583 1)">–</text>
<text transform="translate(97.25 471.20) scale(0.620 1)">0</text>
<text transform="translate(102.86 471.20) scale(0.620 1)">3</text>
<text transform="translate(107.23 471.20) scale(0.620 1)">.</text>
<text transform="translate(114.08 471.20) scale(0.516 1)">E</text>
<text transform="translate(119.69 471.20) scale(0.620 1)">x</text>
<text transform="translate(124.06 471.20) scale(0.620 1)">.</text>
<text transform="translate(130.91 471.20) scale(0.620 1)">I</text>
<text transform="translate(136.51 471.20) scale(0.436 1)">N</text>
<text transform="translate(142.12 471.20) scale(0.620 1)">/</text>
<text transform="translate(147.74 471.20) scale(0.620 1)">J</text>
<text transform="translate(153.34 471.20) scale(0.436 1)">A</text>
<text transform="translate(158.95 471.20) scale(0.620 1)">3</text>
</g>
<g font-size="15.50" text-anchor="middle">
<text transform="translate(171.20 395.90) scale(0.720 1)">3</text>
<text transform="translate(178.70 395.90) scale(0.720 1)">3</text>
<text transform="translate(186.20 395.90) scale(0.720 1)">0</text>
</g>
<g font-size="15.50" text-anchor="middle">
<text transform="translate(195.60 395.90) scale(0.720 1)">3</text>
<text transform="translate(203.10 395.90) scale(0.720 1)">5</text>
<text transform="translate(210.60 395.90) scale(0.720 1)">1</text>
</g>
<g font-size="15.50" text-anchor="middle">
<text transform="translate(220.00 395.90) scale(0.720 1)">2</text>
<text transform="translate(227.50 395.90) scale(0.720 1)">4</text>
<text transform="translate(235.00 395.90) scale(0.720 1)">3</text>
</g>
<g font-size="15.50" text-anchor="middle">
<text transform="translate(244.40 395.90) scale(0.720 1)">2</text>
<text transform="translate(251.90 395.90) scale(0.720 1)">0</text>
<text transform="translate(259.40 395.90) scale(0.720 1)">8</text>
</g>
<g font-size="15.50" text-anchor="middle">
<text transform="translate(268.80 395.90) scale(0.720 1)">2</text>
<text transform="translate(276.30 395.90) scale(0.720 1)">5</text>
<text transform="translate(283.80 395.90) scale(0.720 1)">0</text>
</g>
<g font-size="15.50" text-anchor="middle">
<text transform="translate(296.95 395.90) scale(0.720 1)">7</text>
<text transform="translate(304.45 395.90) scale(0.720 1)">9</text>
</g>
<g font-size="15.50" text-anchor="middle">
<text transform="translate(317.60 395.90) scale(0.720 1)">1</text>
<text transform="translate(325.10 395.90) scale(0.720 1)">0</text>
<text transform="translate(332.60 395.90) scale(0.720 1)">9</text>
</g>
<g font-size="15.50" text-anchor="middle">
<text transform="translate(345.75 395.90) scale(0.720 1)">7</text>
<text transform="translate(353.25 395.90) scale(0.720 1)">0</text>
</g>
<g font-size="15.50" text-anchor="middle">
<text transform="translate(390.80 395.90) scale(0.720 1)">6</text>
<text transform="translate(398.30 395.90) scale(0.720 1)">8</text>
<text transform="translate(405.80 395.90) scale(0.720 1)">1</text>
</g>
<g font-size="15.50" text-anchor="middle">
<text transform="translate(415.20 395.90) scale(0.720 1)">5</text>
<text transform="translate(422.70 395.90) scale(0.720 1)">3</text>
<text transform="translate(430.20 395.90) scale(0.720 1)">4</text>
</g>
<g font-size="15.50" text-anchor="middle">
<text transform="translate(464.00 395.90) scale(0.720 1)">2</text>
<text transform="translate(471.50 395.90) scale(0.720 1)">0</text>
<text transform="translate(479.00 395.90) scale(0.720 1)">0</text>
</g>
<g font-size="15.50" text-anchor="middle">
<text transform="translate(171.20 458.50) scale(0.720 1)">3</text>
<text transform="translate(178.70 458.50) scale(0.720 1)">4</text>
<text transform="translate(186.20 458.50) scale(0.720 1)">7</text>
</g>
<g font-size="15.50" text-anchor="middle">
<text transform="translate(195.60 458.50) scale(0.720 1)">3</text>
<text transform="translate(203.10 458.50) scale(0.720 1)">7</text>
<text transform="translate(210.60 458.50) scale(0.720 1)">8</text>
</g>
<g font-size="15.50" text-anchor="middle">
<text transform="translate(220.00 458.50) scale(0.720 1)">4</text>
<text transform="translate(227.50 458.50) scale(0.720 1)">7</text>
<text transform="translate(235.00 458.50) scale(0.720 1)">0</text>
</g>
<g font-size="15.50" text-anchor="middle">
<text transform="translate(244.40 458.50) scale(0.720 1)">2</text>
<text transform="translate(251.90 458.50) scale(0.720 1)">4</text>
<text transform="translate(259.40 458.50) scale(0.720 1)">6</text>
</g>
<g font-size="15.50" text-anchor="middle">
<text transform="translate(268.80 458.50) scale(0.720 1)">3</text>
<text transform="translate(276.30 458.50) scale(0.720 1)">1</text>
<text transform="translate(283.80 458.50) scale(0.720 1)">4</text>
</g>
<g font-size="15.50" text-anchor="middle">
<text transform="translate(293.20 458.50) scale(0.720 1)">1</text>
<text transform="translate(300.70 458.50) scale(0.720 1)">0</text>
<text transform="translate(308.20 458.50) scale(0.720 1)">1</text>
</g>
<g font-size="15.50" text-anchor="middle">
<text transform="translate(317.60 458.50) scale(0.720 1)">1</text>
<text transform="translate(325.10 458.50) scale(0.720 1)">3</text>
<text transform="translate(332.60 458.50) scale(0.720 1)">4</text>
</g>
<g font-size="15.50" text-anchor="middle">
<text transform="translate(345.75 458.50) scale(0.720 1)">9</text>
<text transform="translate(353.25 458.50) scale(0.720 1)">0</text>
</g>
<g font-size="15.50" text-anchor="middle">
<text transform="translate(390.80 458.50) scale(0.720 1)">7</text>
<text transform="translate(398.30 458.50) scale(0.720 1)">2</text>
<text transform="translate(405.80 458.50) scale(0.720 1)">5</text>
</g>
<g font-size="15.50" text-anchor="middle">
<text transform="translate(415.20 458.50) scale(0.720 1)">7</text>
<text transform="translate(422.70 458.50) scale(0.720 1)">1</text>
<text transform="translate(430.20 458.50) scale(0.720 1)">6</text>
</g>
<g font-size="15.50" text-anchor="middle">
<text transform="translate(464.00 458.50) scale(0.720 1)">4</text>
<text transform="translate(471.50 458.50) scale(0.720 1)">8</text>
<text transform="translate(479.00 458.50) scale(0.720 1)">5</text>
</g>
<g font-size="15.50" text-anchor="middle">
<text transform="translate(366.40 373.60) scale(0.720 1)">1</text>
<text transform="translate(373.90 373.60) scale(0.720 1)">4</text>
<text transform="translate(381.40 373.60) scale(0.720 1)">1</text>
</g>
<g font-size="15.50" text-anchor="middle">
<text transform="translate(366.40 395.90) scale(0.720 1)">1</text>
<text transform="translate(373.90 395.90) scale(0.720 1)">7</text>
<text transform="translate(381.40 395.90) scale(0.720 1)">2</text>
</g>
<g font-size="15.50" text-anchor="middle">
<text transform="translate(366.40 421.70) scale(0.720 1)">2</text>
<text transform="translate(373.90 421.70) scale(0.720 1)">5</text>
<text transform="translate(381.40 421.70) scale(0.720 1)">1</text>
</g>
<g font-size="15.50" text-anchor="middle">
<text transform="translate(366.40 447.60) scale(0.720 1)">2</text>
<text transform="translate(373.90 447.60) scale(0.720 1)">5</text>
<text transform="translate(381.40 447.60) scale(0.720 1)">1</text>
</g>
<g font-size="15.50" text-anchor="middle">
<text transform="translate(366.40 472.00) scale(0.720 1)">3</text>
<text transform="translate(373.90 472.00) scale(0.720 1)">3</text>
<text transform="translate(381.40 472.00) scale(0.720 1)">5</text>
</g>
<g font-size="15.50" text-anchor="middle">
<text transform="translate(439.60 375.20) scale(0.720 1)">3</text>
<text transform="translate(447.10 375.20) scale(0.720 1)">9</text>
<text transform="translate(454.60 375.20) scale(0.720 1)">3</text>
</g>
<g font-size="15.50" text-anchor="middle">
<text transform="translate(439.60 400.20) scale(0.720 1)">4</text>
<text transform="translate(447.10 400.20) scale(0.720 1)">2</text>
<text transform="translate(454.60 400.20) scale(0.720 1)">2</text>
</g>
<g font-size="15.50" text-anchor="middle">
<text transform="translate(439.60 424.30) scale(0.720 1)">5</text>
<text transform="translate(447.10 424.30) scale(0.720 1)">0</text>
<text transform="translate(454.60 424.30) scale(0.720 1)">1</text>
</g>
<g font-size="15.50" text-anchor="middle">
<text transform="translate(439.60 448.60) scale(0.720 1)">5</text>
<text transform="translate(447.10 448.60) scale(0.720 1)">6</text>
<text transform="translate(454.60 448.60) scale(0.720 1)">5</text>
</g>
<g font-size="15.50" text-anchor="middle">
<text transform="translate(439.60 473.50) scale(0.720 1)">6</text>
<text transform="translate(447.10 473.50) scale(0.720 1)">4</text>
<text transform="translate(454.60 473.50) scale(0.720 1)">9</text>
</g>
<text x="69.2" y="496.5" font-size="14.5" style="font-family:'Liberation Serif','Noto Serif CJK SC',serif;stroke-width:0.2px;">注</text>
<text x="86.3" y="496.1" font-size="16" text-anchor="middle" style="stroke-width:0.2px;">:</text>
<text x="99.5" y="496.8" font-size="14.5" textLength="154.5" lengthAdjust="spacing" style="font-family:'Liberation Serif','Noto Serif CJK SC',serif;stroke-width:0.2px;">表中未注明尺寸单位为</text>
<g font-size="17.50" text-anchor="middle">
<text transform="translate(260.20 496.40) scale(0.580 1)">m</text>
<text transform="translate(268.60 496.40) scale(0.580 1)">m</text>
</g>
</svg>
</body></html>
